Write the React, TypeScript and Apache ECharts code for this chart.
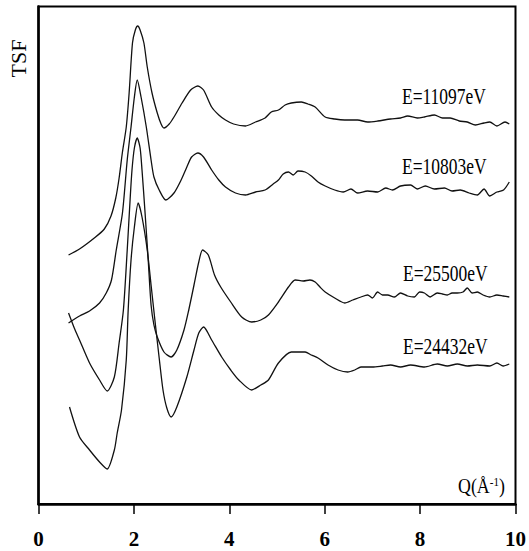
import React, { useEffect, useRef } from "react";
import * as echarts from "echarts";

// Q values (Å^-1) and TSF values (arbitrary units, offset curves)
const Q_11097 = [0.63,0.86,1.17,1.38,1.52,1.62,1.69,1.76,1.84,1.90,1.97,2.03,2.08,2.13,2.21,2.28,2.38,2.49,2.57,2.63,2.74,2.84,3.01,3.19,3.34,3.46,3.63,3.78,3.92,4.09,4.34,4.55,4.75,4.88,5.03,5.17,5.30,5.51,5.65,5.80,6.01,6.21,6.42,6.69,6.90,7.11,7.38,7.59,7.74,7.94,8.09,8.30,8.47,8.63,8.82,8.99,9.16,9.34,9.46,9.61,9.78,9.87];
const TSF_11097 = [24.9,25.5,26.6,27.5,28.8,30.6,32.6,35.2,37.7,41.1,46.1,47.4,47.8,47.4,46.1,43.7,41.1,39.1,38.0,37.6,38.0,38.7,40.1,41.4,41.8,41.4,39.7,38.9,38.4,38.0,37.8,38.2,38.6,39.2,39.4,39.9,40.1,40.2,40.0,39.7,38.7,38.5,38.4,38.4,38.2,38.3,38.5,38.6,38.8,38.6,38.7,38.9,38.6,38.6,38.3,38.2,37.9,38.1,38.2,37.8,38.2,38.0];

const Q_10803 = [0.63,0.86,1.07,1.28,1.42,1.53,1.63,1.76,1.86,1.94,2.01,2.07,2.15,2.26,2.36,2.42,2.53,2.67,2.84,2.99,3.11,3.21,3.34,3.46,3.63,3.78,3.92,4.13,4.34,4.55,4.75,4.92,5.03,5.13,5.24,5.34,5.44,5.59,5.72,5.86,6.01,6.21,6.39,6.55,6.69,6.90,7.11,7.28,7.42,7.59,7.80,7.94,8.11,8.30,8.51,8.67,8.84,9.03,9.20,9.34,9.46,9.61,9.75,9.87];
const TSF_10803 = [18.1,18.8,19.3,20.1,21.1,22.4,25.4,29.1,34.4,37.7,40.7,42.4,40.7,37.7,34.4,32.7,31.4,30.4,31.1,32.4,33.7,34.7,35.1,34.7,33.4,32.4,31.7,31.1,30.9,31.2,31.4,32.0,32.4,33.0,33.2,32.9,33.3,33.2,32.8,32.2,31.8,31.4,31.2,31.5,31.1,31.3,31.2,31.6,31.4,31.8,31.9,31.5,31.8,31.5,31.6,31.3,31.4,31.1,30.9,31.5,30.8,31.2,31.4,32.2];

const Q_25500 = [0.63,0.75,0.86,1.07,1.28,1.44,1.59,1.69,1.78,1.86,1.92,1.96,2.01,2.07,2.13,2.17,2.23,2.30,2.36,2.42,2.49,2.63,2.78,2.90,3.05,3.15,3.26,3.36,3.44,3.56,3.69,3.82,4.03,4.26,4.47,4.66,4.82,5.03,5.24,5.38,5.55,5.69,5.80,5.90,6.01,6.21,6.42,6.59,6.76,6.90,7.00,7.11,7.21,7.32,7.46,7.59,7.74,7.88,7.99,8.09,8.21,8.36,8.47,8.57,8.67,8.78,8.90,8.99,9.09,9.20,9.32,9.46,9.61,9.74,9.87];
const TSF_25500 = [19.1,17.6,16.4,14.1,12.4,11.3,12.7,16.1,19.4,25.4,30.4,33.4,35.6,36.6,35.6,33.4,29.4,24.4,19.9,17.9,16.7,15.2,14.7,15.4,17.4,19.4,21.9,24.2,25.4,24.9,22.9,21.7,20.2,18.7,18.2,18.4,18.9,20.2,21.7,22.4,22.3,22.4,22.2,21.7,21.2,20.6,20.1,20.4,20.7,20.9,20.6,21.2,20.9,20.9,20.7,21.1,20.8,20.7,21.2,21.1,20.7,21.1,21.0,20.9,21.1,21.1,21.2,21.6,21.1,21.2,20.9,20.7,20.9,20.8,20.7];

const Q_24432 = [0.65,0.86,1.07,1.28,1.44,1.59,1.65,1.74,1.84,1.88,1.94,2.01,2.09,2.17,2.28,2.36,2.44,2.53,2.61,2.69,2.78,2.90,3.11,3.26,3.36,3.46,3.63,3.84,4.03,4.20,4.47,4.66,4.82,5.03,5.30,5.44,5.59,5.72,5.86,6.07,6.28,6.48,6.63,6.76,7.00,7.21,7.38,7.59,7.80,8.09,8.36,8.57,8.78,8.99,9.20,9.46,9.61,9.74,9.87];
const TSF_24432 = [9.7,6.7,5.4,4.2,3.5,5.4,7.1,9.4,14.4,19.4,24.4,27.7,30.1,28.7,25.4,21.9,18.4,14.6,11.4,9.6,8.7,9.7,12.7,15.4,17.1,17.7,16.4,14.7,13.4,12.4,11.4,11.9,12.4,14.1,15.2,15.2,15.2,14.9,14.6,13.9,13.4,13.2,13.4,13.7,13.7,13.8,13.9,13.7,13.9,13.7,14.0,13.8,14.0,13.8,13.9,13.8,14.1,13.8,14.0];

const X_TICKS = [0, 2, 4, 6, 8, 10];
const CURVE_LABELS = ["E=11097eV", "E=10803eV", "E=25500eV", "E=24432eV"];

const zip = (q: number[], t: number[]) => q.map((v, i) => [v, t[i]]);

const FONT = "'Liberation Serif', 'Times New Roman', serif";

export default function App() {
  const ref = useRef<HTMLDivElement>(null);
  useEffect(() => {
    if (!ref.current) return;
    const chart = echarts.init(ref.current, undefined, { renderer: "svg" });
    const curves = [
      zip(Q_11097, TSF_11097),
      zip(Q_10803, TSF_10803),
      zip(Q_25500, TSF_25500),
      zip(Q_24432, TSF_24432),
    ];
    const labelPos = [
      [402, 96.5],
      [402, 166.5],
      [403, 273],
      [403, 346],
    ];
    chart.setOption({
      animation: false,
      backgroundColor: "#fff",
      grid: {
        left: 38.5,
        top: 6.5,
        width: 480,
        height: 497.5,
        show: true,
        borderColor: "#000",
        borderWidth: 2,
        backgroundColor: "transparent",
      },
      xAxis: {
        type: "value",
        min: 0,
        max: 10,
        interval: 2,
        axisLine: { show: true, onZero: false, lineStyle: { color: "#000", width: 2.5 } },
        axisTick: { show: true, inside: false, length: 10, lineStyle: { color: "#000", width: 1.5 } },
        axisLabel: {
          show: true,
          margin: 24,
          color: "#000",
          fontFamily: FONT,
          fontSize: 21,
          fontWeight: "bold",
          formatter: (v: number) => (X_TICKS.includes(v) ? String(v) : ""),
        },
        splitLine: { show: false },
      },
      yAxis: {
        type: "value",
        min: 0,
        max: 49.75,
        axisLine: { show: true, lineStyle: { color: "#000", width: 2.5 } },
        axisTick: { show: false },
        axisLabel: { show: false },
        splitLine: { show: false },
      },
      series: curves.map((d) => ({
        type: "line",
        data: d,
        symbol: "none",
        smooth: 0.25,
        lineStyle: { color: "#111", width: 1.3 },
      })),
      graphic: [
        ...CURVE_LABELS.map((t, i) => ({
          type: "text",
          x: labelPos[i][0],
          y: labelPos[i][1],
          scaleX: 0.76,
          style: {
            text: t,
            fontFamily: FONT,
            fontSize: 23,
            fill: "#000",
            textAlign: "left",
            textVerticalAlign: "middle",
          },
        })),
        {
          type: "text",
          x: 18.5,
          y: 58.5,
          rotation: Math.PI / 2,
          style: {
            text: "TSF",
            fontFamily: FONT,
            fontSize: 22,
            fill: "#000",
            textAlign: "center",
            textVerticalAlign: "middle",
          },
        },
        {
          type: "text",
          x: 458,
          y: 486,
          scaleX: 0.85,
          style: {
            text: "{a|Q(Å}{b|-1}{a|)}",
            fill: "#000",
            textAlign: "left",
            textVerticalAlign: "middle",
            rich: {
              a: { fontFamily: FONT, fontSize: 21, fill: "#000" },
              b: { fontFamily: FONT, fontSize: 13, fill: "#000", verticalAlign: "top" },
            },
          },
        },
      ],
    });
    return () => chart.dispose();
  }, []);
  return (
    <div
      ref={ref}
      style={{ position: "fixed", left: 0, top: 0, width: 529, height: 551 }}
    />
  );
}
